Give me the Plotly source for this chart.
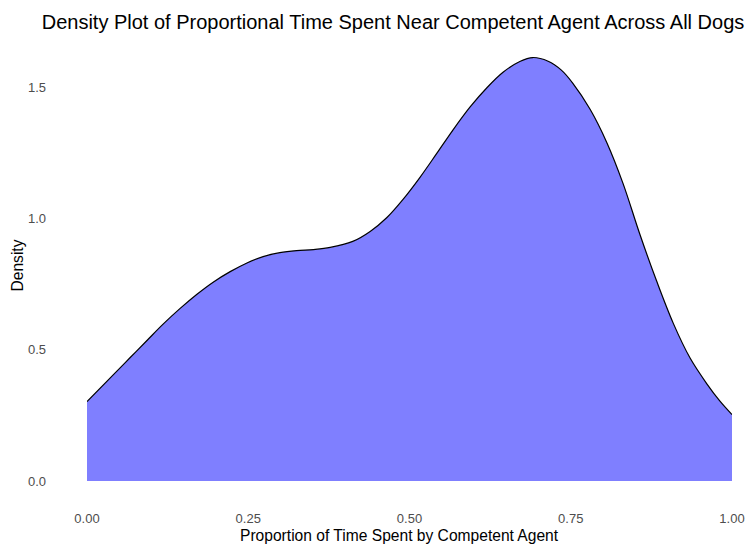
import plotly.graph_objects as go

# Density curve
prop = [0.0, 0.041, 0.067, 0.093, 0.118, 0.144, 0.170, 0.195, 0.222, 0.248,
        0.273, 0.299, 0.325, 0.351, 0.377, 0.412, 0.439, 0.465, 0.490, 0.516,
        0.542, 0.567, 0.594, 0.620, 0.645, 0.671, 0.691, 0.715, 0.735, 0.753,
        0.780, 0.806, 0.831, 0.857, 0.883, 0.909, 0.935, 0.961, 0.981, 1.0]
density = [0.302, 0.405, 0.470, 0.535, 0.597, 0.656, 0.710, 0.756, 0.797, 0.830,
           0.854, 0.869, 0.877, 0.881, 0.889, 0.912, 0.950, 1.003, 1.072, 1.155,
           1.246, 1.335, 1.424, 1.497, 1.556, 1.597, 1.612, 1.598, 1.565, 1.515,
           1.415, 1.288, 1.133, 0.940, 0.762, 0.600, 0.468, 0.370, 0.305, 0.253]

x_ticks = [0.0, 0.25, 0.5, 0.75, 1.0]
x_tick_labels = ["0.00", "0.25", "0.50", "0.75", "1.00"]
y_ticks = [0.0, 0.5, 1.0, 1.5]
y_tick_labels = ["0.0", "0.5", "1.0", "1.5"]

fig = go.Figure()
fig.add_trace(go.Scatter(
    x=prop, y=density, mode="lines", fill="tozeroy",
    fillcolor="rgba(0,0,255,0.5)",
    line=dict(color="black", width=1.2, shape="spline", smoothing=1.0),
    hoverinfo="skip", showlegend=False,
))

font_family = "Liberation Sans, Arial, sans-serif"
fig.update_layout(
    width=750, height=545,
    margin=dict(l=87, r=18, t=50, b=64),
    paper_bgcolor="white", plot_bgcolor="white",
    font=dict(family=font_family),
    title=dict(text="Density Plot of Proportional Time Spent Near Competent Agent Across All Dogs",
               x=393 / 750, xref="container", xanchor="center",
               y=1 - 22 / 545, yref="container", yanchor="middle",
               font=dict(size=20, color="black", family=font_family)),
    xaxis=dict(range=[0, 1], tickvals=x_ticks, ticktext=x_tick_labels,
               showgrid=False, zeroline=False, showline=False, ticks="",
               automargin=False,
               tickfont=dict(size=13, color="#4D4D4D"), ticklabelstandoff=28),
    yaxis=dict(range=[0, 431 / 262.7], tickvals=y_ticks, ticktext=y_tick_labels,
               showgrid=False, zeroline=False, showline=False, ticks="",
               automargin=False,
               tickfont=dict(size=13, color="#4D4D4D"), ticklabelstandoff=40),
    annotations=[
        dict(text="Proportion of Time Spent by Competent Agent", xref="paper", yref="paper",
             x=(399 - 87) / 645, y=-(535 - 481) / 431, xanchor="center", yanchor="middle",
             showarrow=False, font=dict(size=15.6, color="black")),
        dict(text="Density", xref="paper", yref="paper",
             x=-(87 - 17) / 645, y=0.5, xanchor="center", yanchor="middle", textangle=-90,
             showarrow=False, font=dict(size=15.6, color="black")),
    ],
)

fig.write_html("out.html")
